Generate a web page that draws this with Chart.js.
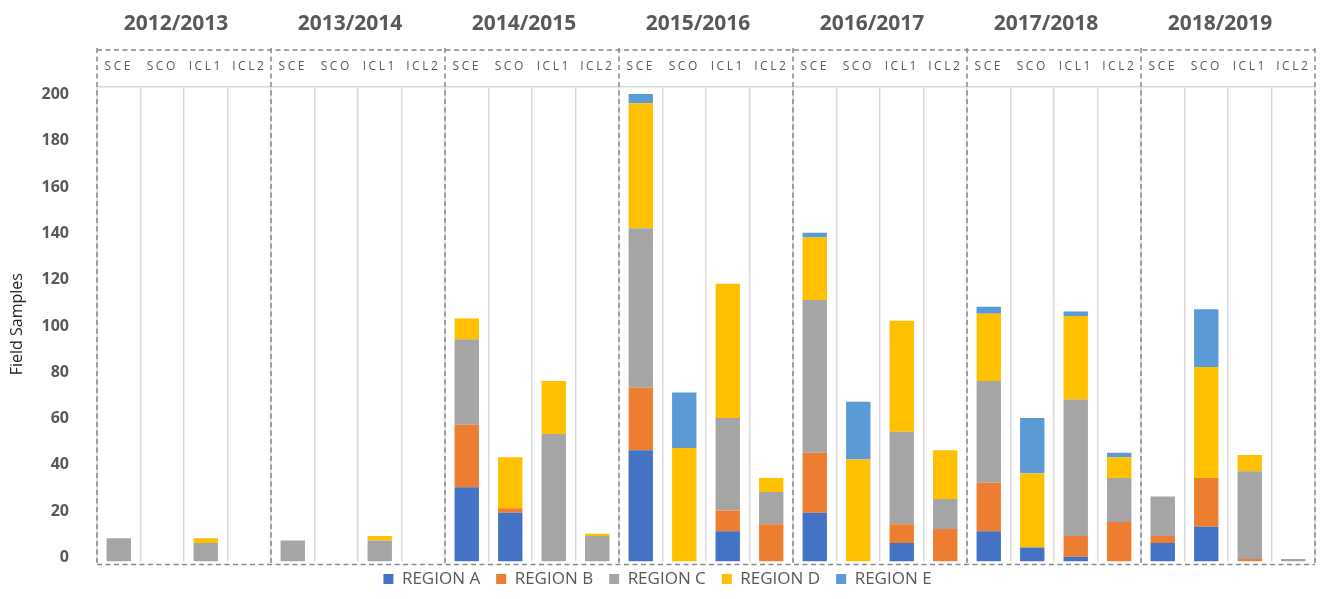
<!DOCTYPE html>
<html>
<head>
<meta charset="utf-8">
<script src="https://cdn.jsdelivr.net/npm/chart.js@4.4.0/dist/chart.umd.min.js"></script>
<style>
    html, body { margin: 0; padding: 0; background: #fff; overflow: hidden; }
    canvas { display: block; }
</style>
</head>
<body>
<canvas id="chart" width="1323" height="599"></canvas>
<script>
// seasons and sampling sites
const seasons = ['2012/2013', '2013/2014', '2014/2015', '2015/2016', '2016/2017', '2017/2018', '2018/2019'];
const sites = ['SCE', 'SCO', 'ICL1', 'ICL2'];
const yTicks = [0, 20, 40, 60, 80, 100, 120, 140, 160, 180, 200];

// one value per season x site (SCE, SCO, ICL1, ICL2)
const regionA = [0, 0, 0, 0,   0, 0, 0, 0,   32, 21, 0, 0,   48, 0, 13, 0,   21, 0, 8, 0,    13, 6, 2, 0,    8, 15, 0, 0];
const regionB = [0, 0, 0, 0,   0, 0, 0, 0,   27, 2, 0, 0,    27, 0, 9, 16,   26, 0, 8, 14,   21, 0, 9, 17,   3, 21, 1, 0];
const regionC = [10, 0, 8, 0,  9, 0, 9, 0,   37, 0, 55, 11,  69, 0, 40, 14,  66, 0, 40, 13,  44, 0, 59, 19,  17, 0, 38, 1];
const regionD = [0, 0, 2, 0,   0, 0, 2, 0,   9, 22, 23, 1,   54, 49, 58, 6,  27, 44, 48, 21, 29, 32, 36, 9,  0, 48, 7, 0];
const regionE = [0, 0, 0, 0,   0, 0, 0, 0,   0, 0, 0, 0,     4, 24, 0, 0,    2, 25, 0, 0,    3, 24, 2, 2,    0, 25, 0, 0];

const labels = seasons.flatMap(() => sites);

Chart.defaults.font.family = '"Open Sans", sans-serif';
Chart.defaults.color = '#595959';

const LEGEND_PAD = 16;

// dashed season boxes, season titles, legend placement
const seasonBoxes = {
    id: 'seasonBoxes',
    beforeInit(chart) {
        // short legend strip so the plot reaches down to it
        const fit = chart.legend.fit;
        chart.legend.fit = function () { fit.call(this); this.height = 28; };
    },
    afterLayout(chart) {
        // wide item spacing, but keep the row close under the plot
        const lg = chart.legend;
        lg.top = chart.chartArea.bottom + 17.5 - LEGEND_PAD - 8.5;
        lg.bottom = chart.height;
        lg.height = lg.bottom - lg.top;
    },
    afterDatasetsDraw(chart) {
        // spaced-out site labels (x ticks are drawn after the datasets)
        chart.ctx.letterSpacing = '2.5px';
    },
    afterDraw(chart) {
        const ctx = chart.ctx;
        ctx.letterSpacing = '0px';
        const { left, right, bottom } = chart.chartArea;
        const x = chart.scales.x;
        const boxTop = 50, boxBottom = bottom + 3;

        const edges = [left];
        for (let k = 1; k < seasons.length; k++) {
            edges.push((x.getPixelForValue(4 * k - 1) + x.getPixelForValue(4 * k)) / 2);
        }
        edges.push(right);

        ctx.save();
        ctx.strokeStyle = '#888888';
        ctx.lineWidth = 1.5;
        ctx.setLineDash([5, 3.5]);
        ctx.beginPath();
        ctx.moveTo(left, boxTop); ctx.lineTo(right, boxTop);
        ctx.moveTo(left, boxBottom); ctx.lineTo(right, boxBottom);
        edges.forEach(e => { ctx.moveTo(e, boxTop - 2); ctx.lineTo(e, boxBottom); });
        ctx.stroke();
        ctx.setLineDash([]);

        ctx.fillStyle = '#595959';
        ctx.font = 'bold 21px "Open Sans", sans-serif';
        ctx.textAlign = 'center';
        ctx.textBaseline = 'middle';
        seasons.forEach((s, i) => ctx.fillText(s, (edges[i] + edges[i + 1]) / 2 - 8, 24));
        ctx.restore();
    }
};

const mk = (label, data, color) => ({ label, data, backgroundColor: color, borderWidth: 0 });

new Chart(document.getElementById('chart'), {
    type: 'bar',
    data: {
        labels,
        datasets: [
            mk('REGION A', regionA, '#4472C4'),
            mk('REGION B', regionB, '#ED7D31'),
            mk('REGION C', regionC, '#A5A5A5'),
            mk('REGION D', regionD, '#FFC000'),
            mk('REGION E', regionE, '#5B9BD5')
        ]
    },
    options: {
        responsive: false, animation: false, devicePixelRatio: 1,
        layout: { padding: { top: 49, right: 8, left: 0, bottom: 0 } },
        datasets: { bar: { categoryPercentage: 1, barPercentage: 0.56 } },
        plugins: {
            tooltip: { enabled: false },
            legend: {
                position: 'bottom',
                labels: { boxWidth: 10, boxHeight: 10, padding: LEGEND_PAD, color: '#595959', font: { size: 17 } }
            }
        },
        scales: {
            x: {
                position: 'top',
                stacked: true,
                afterFit: s => { s.height = 38; },
                grid: { color: '#d9d9d9', lineWidth: 1.5, offset: true, drawTicks: false },
                border: { display: true, color: '#d9d9d9', width: 1.5 },
                ticks: { z: 1, padding: 13, autoSkip: false, maxRotation: 0, color: '#595959', font: { size: 12 } }
            },
            y: {
                stacked: true,
                min: 0, max: 205,
                afterFit: s => { s.width = 97; },
                afterBuildTicks: s => { s.ticks = yTicks.map(v => ({ value: v })); },
                grid: { display: false, drawTicks: false },
                border: { display: false },
                ticks: { padding: 28, labelOffset: -4, color: '#595959', font: { size: 16, weight: 'bold' } },
                title: { display: true, text: 'Field Samples', color: '#262626', padding: { top: 8, bottom: 0 }, font: { size: 16 } }
            }
        }
    },
    plugins: [seasonBoxes]
});
</script>
</body>
</html>
